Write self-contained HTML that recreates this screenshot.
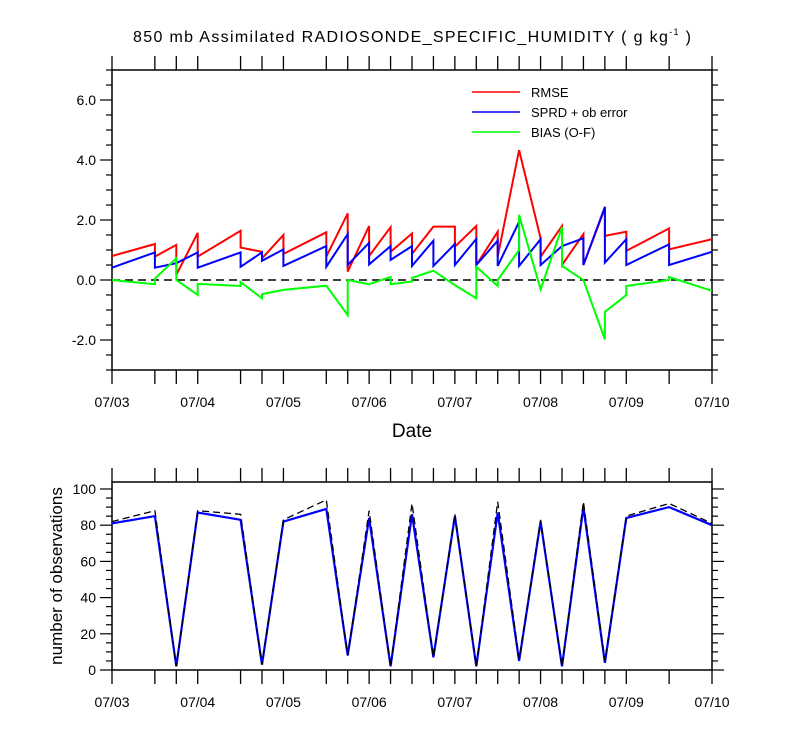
<!DOCTYPE html>
<html><head><meta charset="utf-8"><style>
html,body{margin:0;padding:0;background:#fff;}
svg{display:block;font-family:"Liberation Sans",Arial,sans-serif;}
</style></head><body>
<svg id="chart" width="800" height="750" viewBox="0 0 800 750" xmlns="http://www.w3.org/2000/svg">
<text x="412" y="42" font-size="16" text-anchor="middle" textLength="558" lengthAdjust="spacing">850 mb Assimilated RADIOSONDE_SPECIFIC_HUMIDITY ( g kg<tspan font-size="9" dy="-7">-1</tspan><tspan dy="7"> )</tspan></text>
<g id="top"></g>
<g id="bot"></g>
<text x="412" y="437" font-size="19" text-anchor="middle">Date</text>
<text transform="translate(62,576) rotate(-90)" font-size="17" text-anchor="middle">number of observations</text>
<g>
<line x1="472" y1="92" x2="520" y2="92" stroke="#ff0000" stroke-width="1.5"/>
<text x="531" y="97" font-size="13">RMSE</text>
<line x1="472" y1="112" x2="520" y2="112" stroke="#0000ff" stroke-width="1.5"/>
<text x="531" y="117" font-size="13">SPRD + ob error</text>
<line x1="472" y1="132" x2="520" y2="132" stroke="#00ff00" stroke-width="1.5"/>
<text x="531" y="137" font-size="13">BIAS (O-F)</text>
</g>
</svg>
<script>
// times in days since 07/03 00Z; repeated times mark jumps
const rmseT = [0,0.5,0.5,0.75,0.75,1,1,1.5,1.5,1.75,1.75,2,2,2.5,2.5,2.75,2.75,3,3,3.25,3.25,3.5,3.5,3.75,4,4,4.25,4.25,4.5,4.5,4.75,5,5,5.25,5.25,5.5,5.5,5.75,5.75,6,6,6.5,6.5,7];
const rmseV = [0.8,1.2,0.78,1.17,0.17,1.57,0.78,1.64,1.08,0.94,0.72,1.5,0.87,1.59,0.78,2.22,0.28,1.8,0.8,1.76,0.94,1.55,0.87,1.78,1.78,1.11,1.8,0.5,1.61,0.78,4.33,1.39,0.78,1.8,0.5,1.53,0.5,2.39,1.47,1.61,0.97,1.72,1.02,1.36];
const sprdT = [0,0.5,0.5,0.75,1,1,1.5,1.5,1.75,1.75,2,2,2.5,2.5,2.75,2.75,3,3,3.25,3.25,3.5,3.5,3.75,3.75,4,4,4.25,4.25,4.5,4.5,4.75,4.75,5,5,5.25,5.5,5.5,5.75,5.75,6,6,6.5,6.5,7];
const sprdV = [0.41,0.92,0.41,0.56,0.92,0.41,0.92,0.44,0.92,0.64,1.02,0.47,1.13,0.44,1.53,0.5,1.24,0.52,1.13,0.67,1.13,0.47,1.31,0.47,1.2,0.5,1.37,0.5,1.31,0.47,1.94,0.47,1.36,0.5,1.13,1.39,0.5,2.44,0.58,1.36,0.5,1.19,0.5,0.94];
const biasT = [0,0.5,0.5,0.75,0.75,1,1,1.5,1.5,1.75,1.75,2,2.5,2.5,2.75,2.75,3,3.25,3.25,3.5,3.5,3.75,4,4.25,4.25,4.5,4.5,4.75,4.75,5,5.25,5.25,5.5,5.75,5.75,6,6,6.5,6.5,7];
const biasV = [0,-0.14,0.05,0.72,0,-0.5,-0.13,-0.2,-0.07,-0.61,-0.47,-0.33,-0.19,-0.19,-1.17,0,-0.14,0.1,-0.14,-0.05,0.07,0.31,-0.17,-0.61,0.44,-0.2,0,1.0,2.17,-0.31,1.76,0.47,0,-1.98,-1.06,-0.5,-0.2,0,0.1,-0.36];
const obsT = [0,0.5,0.75,1,1.5,1.75,2,2.5,2.75,3,3.25,3.5,3.75,4,4.25,4.5,4.75,5,5.25,5.5,5.75,6,6.5,7];
const obsUsed = [81,85,2,87,83,3,82,89,8,84,2,86,7,85,2,87,5,82,2,90,4,84,90,80];
const obsTotal = [82,88,2,88,86,3,83,94,8,88,2,92,7,86,2,93,6,83,2,93,5,85,92,81];
const dateLabels = ["07/03","07/04","07/05","07/06","07/07","07/08","07/09","07/10"];
const topYTicks = [-2,0,2,4,6];
const botYTicks = [0,20,40,60,80,100];

const NS="http://www.w3.org/2000/svg";
const X0=112,X1=712;
const xs=t=>X0+(X1-X0)*t/7;
const yTop=v=>280-30*v;
const yBot=v=>670-1.81*v;
function mk(tag,attrs,parent){const e=document.createElementNS(NS,tag);for(const k in attrs)e.setAttribute(k,attrs[k]);parent.appendChild(e);return e;}
function line(p,x1,y1,x2,y2,w,dash){return mk('line',{x1:x1,y1:y1,x2:x2,y2:y2,stroke:'#000','stroke-width':w||1,'stroke-dasharray':dash||'none'},p);}

function panel(g,top,bot,yf,ymin,ymax,yMajor,yMinorStep,labels,fmt,pre){
  const tickTimes=[...new Set(obsT)];
  const fr=mk('rect',{x:X0,y:top,width:X1-X0,height:bot-top,fill:'none',stroke:'#000','stroke-width':1.5},g);
  
  
  tickTimes.forEach(t=>{
    const a=line(g,xs(t),bot,xs(t),bot+14,1.3);
    
    
    const b=line(g,xs(t),top,xs(t),top-14,1.3);
    
    
  });
  labels.forEach((s,i)=>{
    const tx=mk('text',{x:xs(i),y:bot+37,'font-size':14,'text-anchor':'middle'},g);
    tx.textContent=s;
    
    
  });
  for(let v=Math.ceil(ymin/yMinorStep)*yMinorStep;v<=ymax+1e-9;v+=yMinorStep){
    const maj=yMajor.some(m=>Math.abs(m-v)<1e-6);
    const L=maj?12:6;
    const y=yf(v);
    if(y<top-0.5||y>bot+0.5)continue;
    const a=line(g,X0,y,X0-L,y,1.2);
    
    
    const b=line(g,X1,y,X1+L,y,1.2);
    
    
  }
  yMajor.forEach(v=>{
    const tx=mk('text',{x:X0-16,y:yf(v)+5,'font-size':14,'text-anchor':'end'},g);
    tx.textContent=fmt(v);
    
    
  });
}
function series(g,T,V,yf,color,w,dash,name){
  const pts=T.map((t,i)=>xs(t).toFixed(1)+','+yf(V[i]).toFixed(1)).join(' ');
  const p=mk('polyline',{points:pts,fill:'none',stroke:color,'stroke-width':w,'stroke-dasharray':dash||'none','stroke-linejoin':'miter'},g);
  
  
}
const gt=document.getElementById('top'), gb=document.getElementById('bot');
panel(gt,70,370,yTop,-3,7,topYTicks,0.5,dateLabels,v=>v.toFixed(1),'top');
const z=line(gt,X0,yTop(0),X1,yTop(0),1.5,'8,5');


series(gt,rmseT,rmseV,yTop,'#ff0000',2,null,'rmse-line');
series(gt,sprdT,sprdV,yTop,'#0000ff',2,null,'sprd-line');
series(gt,biasT,biasV,yTop,'#00ff00',2,null,'bias-line');
panel(gb,482,670,yBot,0,104,botYTicks,5,dateLabels,v=>String(v),'bot');
series(gb,obsT,obsUsed,yBot,'#0000ff',2.2,null,'obs-used-line');
series(gb,obsT,obsTotal,yBot,'#000',1.3,'7,4','obs-total-line');
</script>
</body></html>
